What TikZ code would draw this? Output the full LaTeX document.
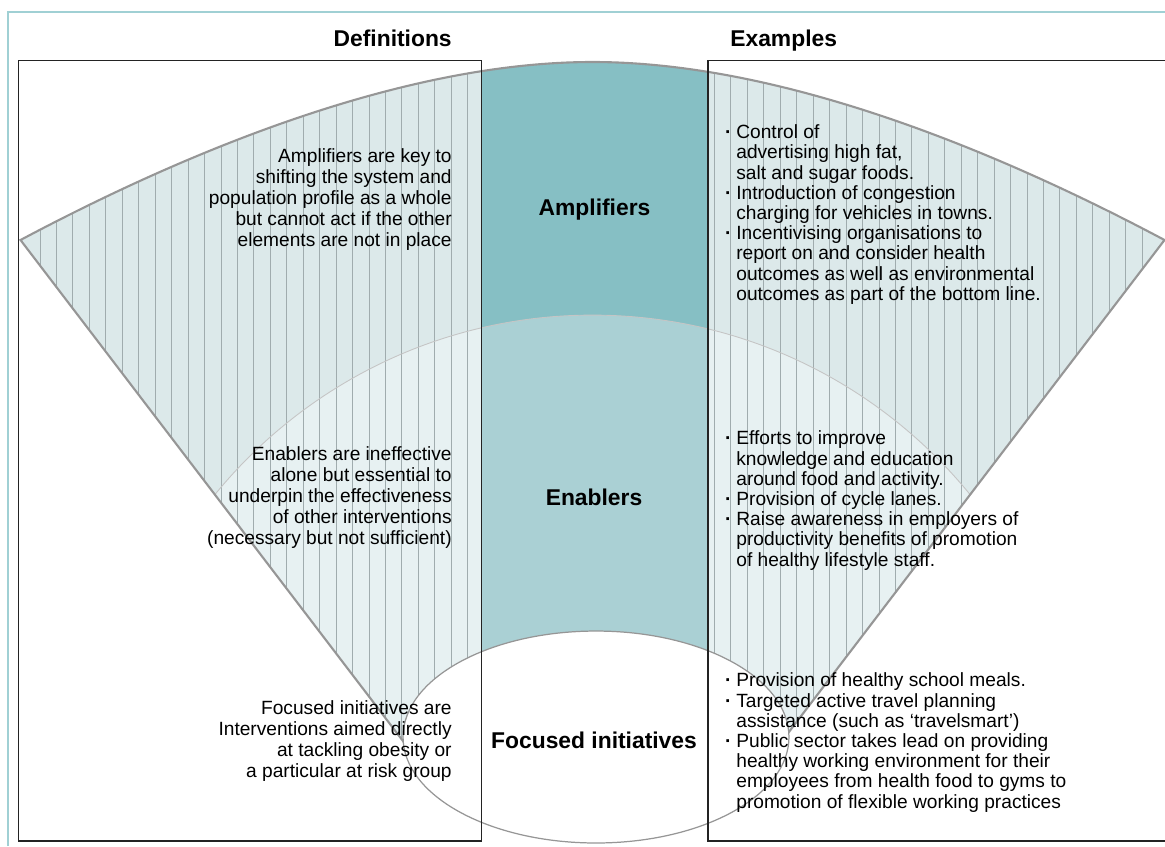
\documentclass[tikz,border=0pt]{standalone}
\usepackage{fontspec}
\setmainfont{Liberation Sans}
\definecolor{ink}{RGB}{35,35,35}
\definecolor{rim}{RGB}{150,150,150}
\definecolor{hatch}{RGB}{160,172,174}
\definecolor{ampside}{RGB}{220,233,234}
\definecolor{enaside}{RGB}{231,241,242}
\definecolor{ampmid}{RGB}{134,191,196}
\definecolor{enamid}{RGB}{170,208,212}
\definecolor{frame}{RGB}{160,208,212}
\newcommand\bul{\llap{\textbf{·}\hspace{2.8pt}}}
\tikzset{
  panel/.style={draw=ink, line width=0.75pt},
  rimline/.style={draw=rim, line width=1.2pt},
  hatchline/.style={draw=hatch, line width=0.5pt},
  tierline/.style={draw=rim!55, line width=0.5pt},
  focus/.style={draw=rim, fill=white, line width=0.7pt},
  frameline/.style={draw=frame, line width=0.8pt},
  head/.style={font=\fontsize{13}{15}\selectfont\bfseries, inner sep=0pt},
  tier/.style={head, anchor=center},
  defn/.style={font=\fontsize{10.9}{12.05}\selectfont, align=right, anchor=east, inner sep=0pt},
  expl/.style={font=\fontsize{10.9}{11.5}\selectfont, align=left, anchor=west, inner sep=0pt},
}

\begin{document}
\begin{tikzpicture}[x=0.02cm, y=-0.02cm]
  \useasboundingbox (0,0) rectangle (1165,846);
  \coordinate (tipL) at (20.5,240);
  \coordinate (tipR) at (1164.5,240);
  \coordinate (endL) at (420.3,763.7);
  \coordinate (endR) at (764.7,763.7);
  \coordinate (hub) at (592.5,802);

  % fan of the three tiers
  \begin{scope}
    \clip (tipL) .. controls (201,144) and (411,62) .. (592.5,62)
      .. controls (774,62) and (984,144) .. (tipR) -- (endR) -- (endL) -- cycle;
    \fill[ampside] (0,0) rectangle (1165,846);
    \fill[enaside] (hub) circle (9.74cm);
    \foreach \k in {0,...,67}
      \draw[hatchline] ({40+16.45*\k},40) -- ({40+16.45*\k},846);
    \fill[ampmid] (481.5,0) rectangle (708,846);
    \begin{scope}
      \clip (hub) circle (9.74cm);
      \fill[enamid] (481.5,0) rectangle (708,846);
    \end{scope}
    \draw[tierline] (hub) circle (9.74cm);
  \end{scope}
  \draw[rimline] (endL) -- (tipL) .. controls (201,144) and (411,62) .. (592.5,62)
    .. controls (774,62) and (984,144) .. (tipR) -- (endR);
  \draw[focus] (596,737) ellipse [x radius=3.86cm, y radius=2.12cm];

  % columns and frame
  \draw[panel] (18.5,60.5) rectangle (481.5,841);
  \draw[panel] (708,60.5) rectangle (1185,841);
  \draw[frameline] (8,846) -- (8,12) -- (1165,12);

  \node[head, anchor=base east] (hdef) at (452,46) {Definitions};
  \node[head, anchor=base west] (hex) at (730,46) {Examples};

  \node[tier] (amp) at (594.5,210) {Amplifiers};
  \node[tier] (ena) at (594,497) {Enablers};
  \node[tier] (foc) at (594,740) {Focused initiatives};

  \node[defn] (damp) at (452,199.5) {Amplifiers are key to\\ shifting the system and\\ population profile as a whole\\ but cannot act if the other\\ elements are not in place};
  \node[defn] (dena) at (452,497.5) {Enablers are ineffective\\ alone but essential to\\ underpin the effectiveness\\ of other interventions\\ (necessary but not sufficient)};
  \node[defn] (dfoc) at (452,741) {Focused initiatives are\\ Interventions aimed directly\\ at tackling obesity or\\ a particular at risk group};

  \node[expl] (xamp) at (736,214.5) {\bul Control of\\ advertising high fat,\\ salt and sugar foods.\\ \bul Introduction of congestion\\ charging for vehicles in towns.\\ \bul Incentivising organisations to\\ report on and consider health\\ outcomes as well as environmental\\ outcomes as part of the bottom line.};
  \node[expl] (xena) at (736,500.5) {\bul Efforts to improve\\ knowledge and education\\ around food and activity.\\ \bul Provision of cycle lanes.\\ \bul Raise awareness in employers of\\ productivity benefits of promotion\\ of healthy lifestyle staff.};
  \node[expl] (xfoc) at (736,742.5) {\bul Provision of healthy school meals.\\ \bul Targeted active travel planning\\ assistance (such as ‘travelsmart’)\\ \bul Public sector takes lead on providing\\ healthy working environment for their\\ employees from health food to gyms to\\ promotion of flexible working practices};
\end{tikzpicture}
\end{document}
